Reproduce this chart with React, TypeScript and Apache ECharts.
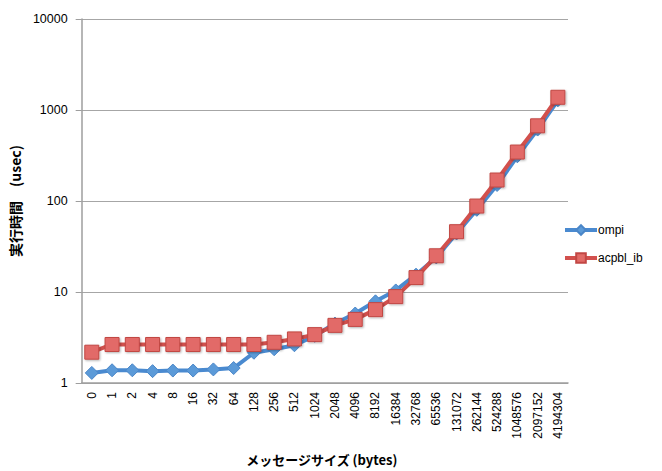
import React, { useEffect, useRef } from "react";
import * as echarts from "echarts";

const sizes = ["0","1","2","4","8","16","32","64","128","256","512","1024","2048","4096","8192","16384","32768","65536","131072","262144","524288","1048576","2097152","4194304"];
const ompi = [1.29, 1.38, 1.38, 1.35, 1.37, 1.37, 1.41, 1.46, 2.15, 2.35, 2.6, 3.3, 4.5, 5.8, 7.9, 10.4, 15.5, 24, 44, 80, 150, 310, 610, 1280];
const acpbl = [2.18, 2.65, 2.65, 2.65, 2.65, 2.65, 2.65, 2.65, 2.65, 2.8, 3.05, 3.4, 4.3, 5.0, 6.4, 8.9, 14.4, 25, 46, 88, 170, 345, 670, 1380];

export default function App() {
  const ref = useRef<HTMLDivElement>(null);
  useEffect(() => {
    if (!ref.current) return;
    const chart = echarts.init(ref.current, null, { renderer: "svg" });
    const font = "'Liberation Sans', Arial, sans-serif";
    const jp = "'Noto Sans CJK JP', sans-serif";
    chart.setOption({
      animation: false,
      backgroundColor: "#ffffff",
      grid: { left: 78, right: 94, top: 19, bottom: 86, containLabel: false },
      legend: {
        orient: "vertical",
        left: 558,
        top: 219,
        itemWidth: 32,
        itemHeight: 12,
        itemGap: 16,
        lineStyle: { width: 4 },
        textStyle: { fontFamily: font, fontSize: 12, color: "#000", padding: [0, 0, 0, -4] },
        data: ["ompi", "acpbl_ib"],
      },
      xAxis: {
        type: "category",
        data: sizes,
        boundaryGap: true,
        name: "メッセージサイズ (bytes)",
        nameLocation: "middle",
        nameGap: 70,
        nameTextStyle: { fontFamily: jp, fontWeight: "bold", fontSize: 13, color: "#000", padding: [0, 6, 0, 0] },
        axisLine: { lineStyle: { color: "#9e9e9e", width: 1.5 } },
        axisTick: { show: false },
        axisLabel: { rotate: 90, interval: 0, fontFamily: font, fontSize: 12, color: "#000", margin: 9 },
      },
      yAxis: {
        type: "log",
        logBase: 10,
        min: 1,
        max: 10000,
        name: "実行時間　(usec)",
        nameLocation: "middle",
        nameGap: 51,
        nameRotate: 90,
        nameTextStyle: { fontFamily: jp, fontWeight: "bold", fontSize: 14, color: "#000" },
        axisLine: { show: true, lineStyle: { color: "#9e9e9e", width: 1.5 } },
        axisTick: { show: true, length: 6, lineStyle: { color: "#9e9e9e" } },
        axisLabel: { fontFamily: font, fontSize: 12.5, color: "#000", margin: 14, formatter: (v: number) => String(Math.round(v)) },
        splitLine: { show: true, lineStyle: { color: "#a6a6a6", width: 1.2 } },
      },
      series: [
        {
          name: "ompi",
          type: "line",
          data: ompi,
          symbol: "diamond",
          symbolSize: 13,
          lineStyle: { color: "#4a8ad0", width: 4 },
          itemStyle: { color: "#5b9ad8", borderColor: "#4a86c8", borderWidth: 1 },
          z: 2,
        },
        {
          name: "acpbl_ib",
          type: "line",
          data: acpbl,
          symbol: "rect",
          symbolSize: 14,
          lineStyle: { color: "#d2504d", width: 4 },
          itemStyle: { color: "#e26b67", borderColor: "#c24744", borderWidth: 1, shadowBlur: 2, shadowColor: "rgba(0,0,0,0.3)", shadowOffsetX: 1, shadowOffsetY: 1 },
          z: 3,
        },
      ],
    });
    return () => chart.dispose();
  }, []);
  return <div ref={ref} style={{ width: 662, height: 471, position: "absolute", left: 0, top: 0 }} />;
}
